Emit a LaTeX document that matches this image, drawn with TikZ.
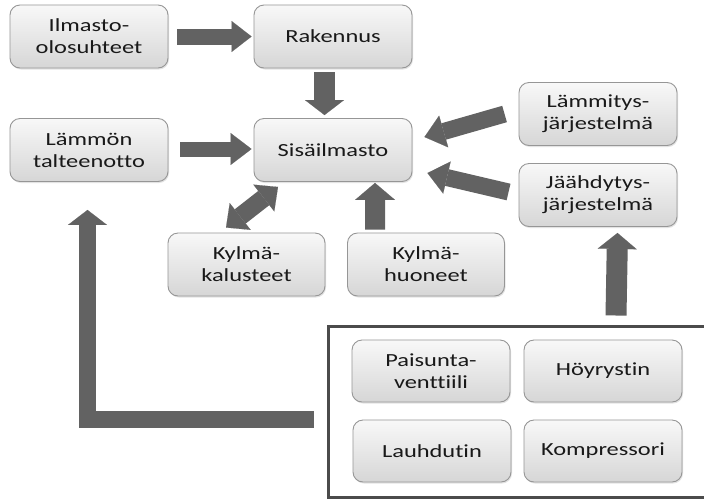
\documentclass[tikz,border=0pt]{standalone}
\usepackage{fontspec}
\setmainfont{Carlito}[FakeStretch=1.32,Ligatures=NoCommon]
\usetikzlibrary{arrows.meta,calc,shadows}
\definecolor{boxtop}{RGB}{248,248,248}
\definecolor{boxbot}{RGB}{214,214,214}
\definecolor{boxline}{RGB}{150,150,150}
\definecolor{arrowc}{RGB}{98,98,98}
\definecolor{frame}{RGB}{75,75,75}
\definecolor{txt}{RGB}{25,25,25}
\tikzset{
  blockbox/.style={rectangle, rounded corners=10pt, draw=boxline, line width=0.9pt,
    top color=boxtop, bottom color=boxbot, minimum width=158pt, minimum height=63pt,
    inner sep=0pt, align=center, text=txt,
    font=\fontsize{18.5pt}{22pt}\selectfont,
    drop shadow={opacity=0.22, shadow xshift=1pt, shadow yshift=-1.5pt}},
  blk/.style={draw=arrowc, line width=#1, line cap=butt, line join=miter},
}
\begin{document}
\begin{tikzpicture}[x=1pt,y=-1pt]
\useasboundingbox (0,0) rectangle (704,499);
\clip (0,0) rectangle (704,499);
\fill[white] (0,0) rectangle (704,499);

% boxes
\node[blockbox] (ilm)  at (89,36.5)  {Ilmasto-\\olosuhteet};
\node[blockbox] (rak)  at (333,36.5) {Rakennus};
\node[blockbox] (lam)  at (89,150)   {Lämmön\\talteenotto};
\node[blockbox] (sis)  at (333,150)  {Sisäilmasto};
\node[blockbox] (lamm) at (598,114)  {Lämmitys-\\järjestelmä};
\node[blockbox] (jaa)  at (598,195)  {Jäähdytys-\\järjestelmä};
\node[blockbox, minimum width=157pt] (kylk) at (246.5,264.5) {Kylmä-\\kalusteet};
\node[blockbox, minimum width=157pt] (kylh) at (426,264.5)   {Kylmä-\\huoneet};

% frame
\node[draw=frame, line width=3pt, minimum width=381.5pt, minimum height=170.5pt, inner sep=0pt] (big) at (519.25,411.75) {};
\node[blockbox, minimum height=62pt] (pai) at (431,371) {Paisunta-\\venttiili};
\node[blockbox, minimum height=62pt] (hoy) at (603,371) {Höyrystin};
\node[blockbox, minimum height=62pt] (lau) at (432,451) {Lauhdutin};
\node[blockbox, minimum height=62pt] (kom) at (603,451) {Kompressori};

% arrows
\draw[blk=16pt, -{Triangle[width=31pt,length=20pt,line width=0.1pt]}]
  ($(ilm.east)+(9,0)$) -- ($(rak.west)+(-2,0)$);
\draw[blk=21pt, -{Triangle[width=39pt,length=15pt,line width=0.1pt]}]
  ($(rak.south)+(-8.5,4)$) -- ($(sis.north)+(-8.5,-3)$);
\draw[blk=15pt, -{Triangle[width=32pt,length=21pt,line width=0.1pt]}]
  ($(lam.east)+(12,-1)$) -- ($(sis.west)+(-2,-1)$);
\draw[blk=17pt, -{Triangle[width=33pt,length=20pt,line width=0.1pt]}]
  ($(lamm.west)+(-14,0)$) -- ($(sis.east)+(12,-13)$);
\draw[blk=17pt, -{Triangle[width=33pt,length=20pt,line width=0.1pt]}]
  ($(jaa.west)+(-10,-3)$) -- ($(sis.east)+(15,23)$);
\draw[blk=18pt, {Triangle[width=34pt,length=18pt,line width=0.1pt]}-{Triangle[width=34pt,length=18pt,line width=0.1pt]}]
  ($(kylk.north)+(-20.5,-5)$) -- ($(sis.south)+(-55,5)$);
\draw[blk=20pt, -{Triangle[width=40pt,length=17pt,line width=0.1pt]}]
  ($(kylh.north west)+(28,-3)$) -- ($(sis.south)+(42,1)$);
\draw[blk=21pt, -{Triangle[width=39pt,length=16pt,line width=0.1pt]}]
  ($(big.north west)+(289,-9.5)$) -- ($(jaa.south)+(19.5,6)$);
\coordinate (ltail) at ($(big.west)+(-13.5,7.75)$);
\coordinate (ltip) at ($(lam.south)+(-1.5,28)$);
\draw[blk=17pt, -{Triangle[width=39pt,length=15pt,line width=0.1pt]}]
  (ltail) -| (ltip);
\end{tikzpicture}
\end{document}
